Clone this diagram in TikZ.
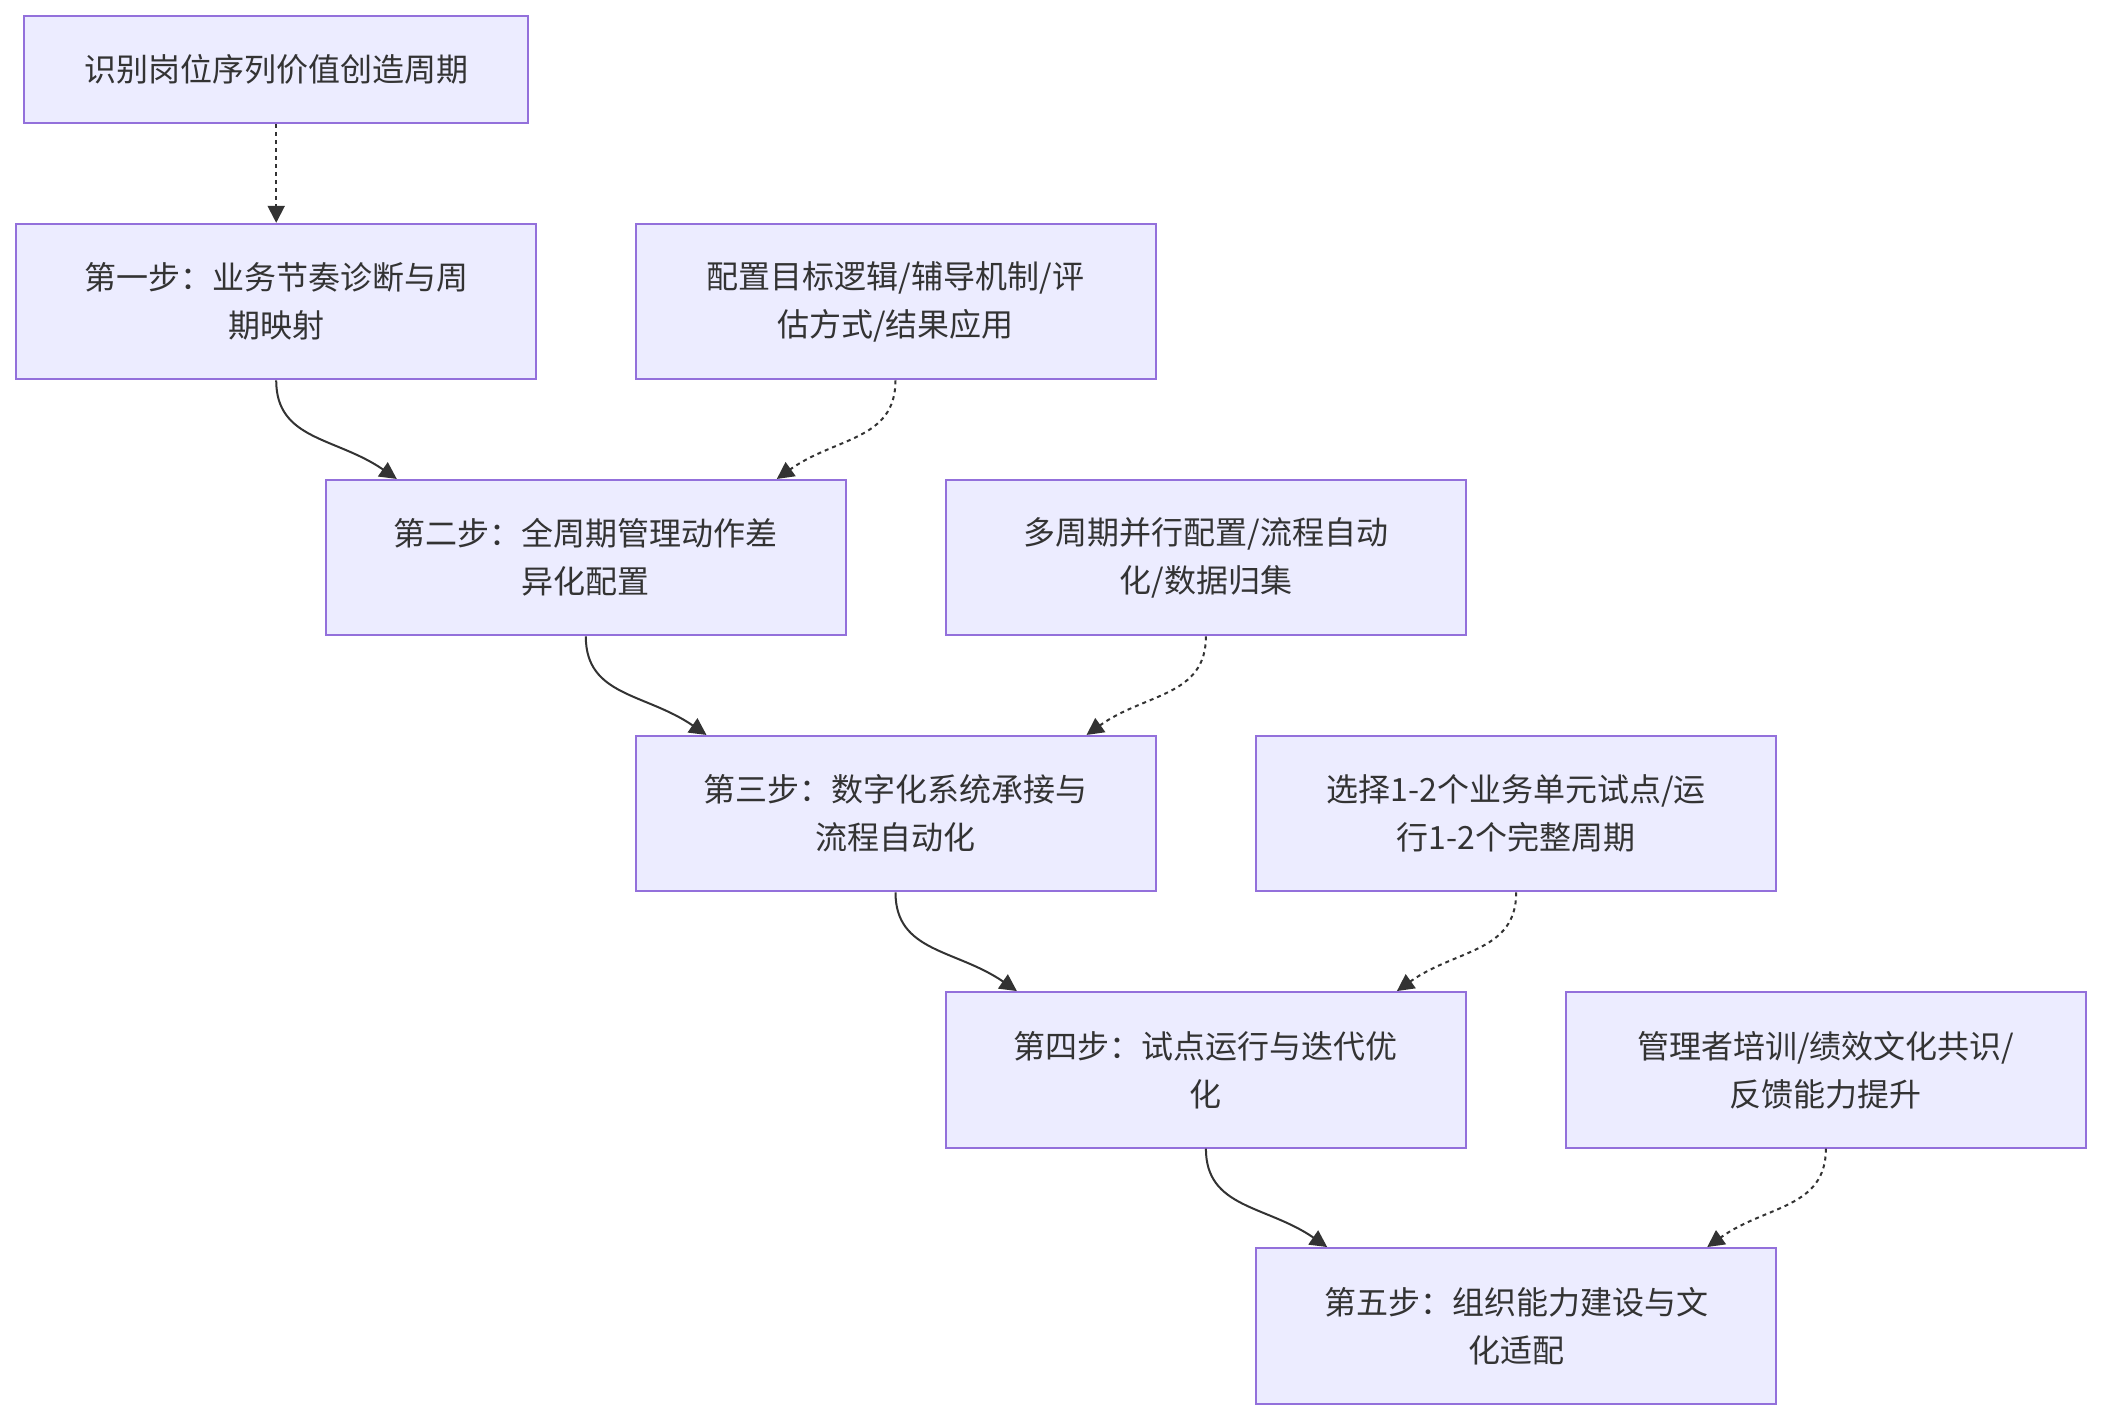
\documentclass[tikz,border=0pt]{standalone}
\usepackage{fontspec}
\newfontfamily\cjk{Noto Sans CJK SC}
\usetikzlibrary{arrows.meta}
\definecolor{nodefill}{HTML}{ECECFF}
\definecolor{nodeline}{HTML}{9370DB}
\definecolor{ink}{HTML}{333333}
\tikzset{
  box/.style={draw=nodeline, fill=nodefill, line width=2pt, text=ink,
    minimum width=520pt, minimum height=155.5pt, inner sep=0pt, align=center,
    font=\cjk\fontsize{32}{48}\selectfont},
  link/.style={draw=ink, line width=2pt, -{Triangle[length=17pt,width=17pt]}},
  dotlink/.style={link, dash pattern=on 4pt off 4pt},
}
\begin{document}
\begin{tikzpicture}[x=1pt,y=1pt]
\useasboundingbox (0,0) rectangle (2102,-1420);
\node[box, minimum width=504pt, minimum height=107pt] (a) at (276.2,-69.7) {识别岗位序列价值创造周期};
\node[box] (s1) at (276.2,-301.6) {第一步：业务节奏诊断与周\\期映射};
\node[box] (c1) at (895.5,-301.6) {配置目标逻辑/辅导机制/评\\估方式/结果应用};
\node[box] (s2) at (585.8,-557.7) {第二步：全周期管理动作差\\异化配置};
\node[box] (c2) at (1205.9,-557.7) {多周期并行配置/流程自动\\化/数据归集};
\node[box] (s3) at (895.5,-813.7) {第三步：数字化系统承接与\\流程自动化};
\node[box] (c3) at (1516.2,-813.7) {选择1-2个业务单元试点/运\\行1-2个完整周期};
\node[box] (s4) at (1205.9,-1069.8) {第四步：试点运行与迭代优\\化};
\node[box] (c4) at (1825.9,-1069.8) {管理者培训/绩效文化共识/\\反馈能力提升};
\node[box] (s5) at (1516.2,-1325.8) {第五步：组织能力建设与文\\化适配};

\draw[dotlink] (a.south) -- (s1.north);
\foreach \p/\c/\n in {s1/c1/s2, s2/c2/s3, s3/c3/s4, s4/c4/s5}{
  \draw[link] (\p.south) .. controls ([yshift=-60pt]\p.south) and ([xshift=-250pt,yshift=42pt]\n.north) .. ([xshift=-189pt]\n.north);
  \draw[dotlink] (\c.south) .. controls ([yshift=-60pt]\c.south) and ([xshift=250pt,yshift=42pt]\n.north) .. ([xshift=191pt]\n.north);
}
\end{tikzpicture}
\end{document}
